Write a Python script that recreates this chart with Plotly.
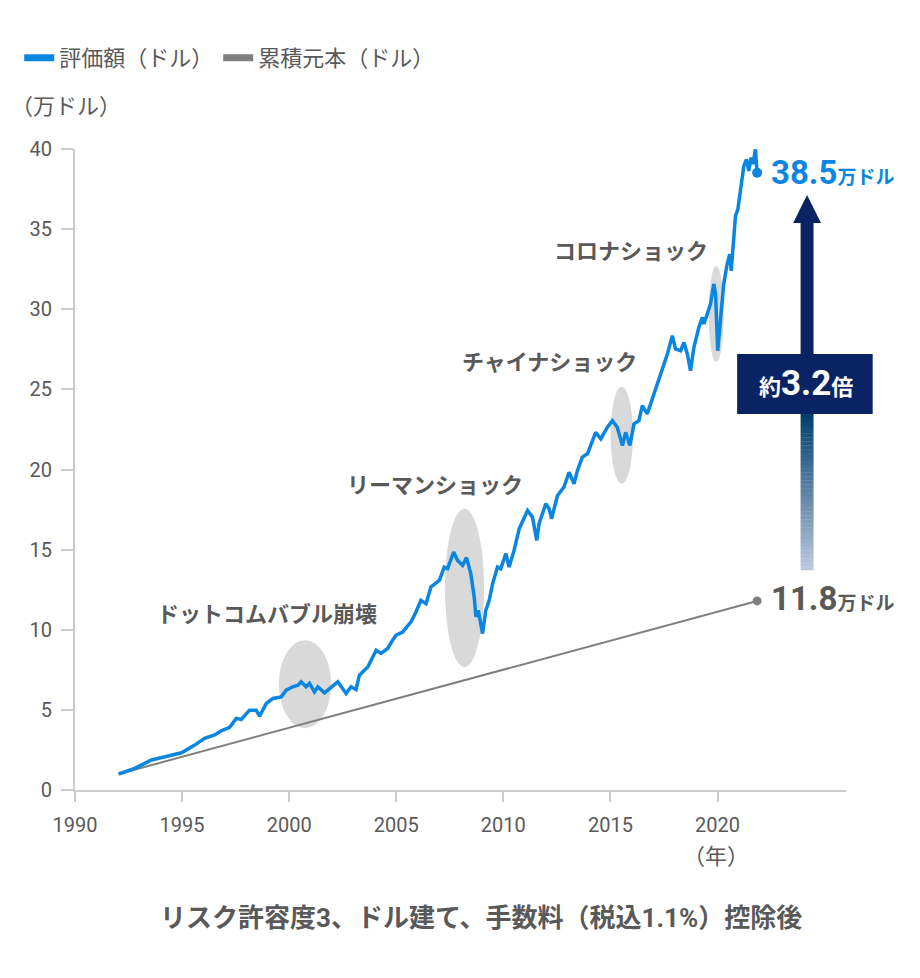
import plotly.graph_objects as go

# ---------------- data ----------------
eval_years = [1992.04, 1992.79, 1993.57, 1994.11, 1994.35, 1994.97, 1995.59, 1996.05, 1996.52, 1996.83,
              1997.22, 1997.53, 1997.76, 1998.15, 1998.46, 1998.62, 1998.93, 1999.24, 1999.63, 1999.86,
              2000.17, 2000.41, 2000.56, 2000.79, 2000.95, 2001.18, 2001.34, 2001.65, 2001.96, 2002.27,
              2002.66, 2002.89, 2003.12, 2003.28, 2003.67, 2004.06, 2004.29, 2004.60, 2004.83, 2004.99,
              2005.30, 2005.69, 2005.92, 2006.15, 2006.39, 2006.62, 2007.01, 2007.24, 2007.40, 2007.68,
              2007.86, 2008.10, 2008.28, 2008.48, 2008.64, 2008.72, 2008.83, 2009.03, 2009.18, 2009.34,
              2009.50, 2009.73, 2009.88, 2010.12, 2010.27, 2010.50, 2010.74, 2010.90, 2011.13, 2011.36,
              2011.56, 2011.67, 2011.98, 2012.14, 2012.25, 2012.53, 2012.83, 2013.07, 2013.30, 2013.46,
              2013.69, 2013.93, 2014.08, 2014.31, 2014.55, 2014.86, 2015.09, 2015.32, 2015.56, 2015.71,
              2015.91, 2016.10, 2016.33, 2016.49, 2016.72, 2017.03, 2017.34, 2017.66, 2017.89, 2018.04,
              2018.28, 2018.43, 2018.59, 2018.74, 2018.90, 2019.13, 2019.29, 2019.36, 2019.52, 2019.67,
              2019.83, 2019.91, 2020.01, 2020.14, 2020.29, 2020.45, 2020.57, 2020.64, 2020.76, 2020.84,
              2020.95, 2021.07, 2021.23, 2021.35, 2021.46, 2021.57, 2021.66, 2021.77, 2021.85]
eval_values = [1.00, 1.35, 1.87, 2.07, 2.12, 2.32, 2.80, 3.22, 3.43, 3.69,
               3.91, 4.47, 4.40, 4.98, 4.98, 4.61, 5.40, 5.71, 5.81, 6.23,
               6.44, 6.54, 6.75, 6.44, 6.65, 6.12, 6.44, 6.06, 6.44, 6.75,
               6.02, 6.44, 6.27, 7.16, 7.68, 8.72, 8.52, 8.83, 9.35, 9.66,
               9.86, 10.49, 11.11, 11.84, 11.63, 12.67, 13.08, 13.91, 13.81, 14.85,
               14.33, 14.02, 14.50, 13.50, 12.04, 10.80, 11.21, 9.76, 11.21, 11.84,
               12.88, 13.91, 13.81, 14.75, 13.91, 14.95, 16.30, 16.82, 17.44, 17.03,
               15.58, 16.62, 17.86, 17.55, 16.93, 18.38, 18.90, 19.83, 19.11, 19.94,
               20.77, 20.98, 21.50, 22.32, 21.91, 22.64, 23.05, 22.64, 21.50, 22.32,
               21.50, 22.85, 23.05, 23.99, 23.47, 24.72, 25.96, 27.21, 28.35, 27.52,
               27.41, 27.93, 27.21, 26.17, 27.62, 28.87, 29.49, 29.08, 29.70, 30.32,
               31.57, 30.95, 27.41, 29.49, 31.57, 32.82, 33.44, 32.40, 34.69, 35.83,
               36.24, 37.59, 38.94, 39.36, 38.63, 39.46, 39.06, 39.98, 38.52]

principal_years = [1992.04, 2021.85]
principal_values = [1.0, 11.8]

series_names = ["評価額（ドル）", "累積元本（ドル）"]
x_ticks = [1990, 1995, 2000, 2005, 2010, 2015, 2020]
y_ticks = [0, 5, 10, 15, 20, 25, 30, 35, 40]

# crisis annotations: label, ellipse x-range, ellipse y-range, label position
crisis_labels = ["ドットコムバブル崩壊", "リーマンショック", "チャイナショック", "コロナショック"]
crisis_x_ranges = [(1999.52, 2001.96), (2007.27, 2009.10), (2015.01, 2016.05), (2019.59, 2020.29)]
crisis_y_ranges = [(3.86, 9.35), (7.68, 17.55), (19.11, 25.17), (26.69, 32.71)]
crisis_label_pos = [(1998.95, 10.98), (2006.79, 19.03), (2012.15, 26.65), (2015.97, 33.63)]

final_value_text = "38.5"
principal_text = "11.8"
ratio_text = "3.2"

# ---------------- style ----------------
BLUE = "#0b86e0"
GRAY = "#7f7f7f"
NAVY = "#0a2463"
TEXT = "#595959"
FONT = "Roboto, 'Noto Sans CJK JP', sans-serif"

fig = go.Figure()

fig.add_trace(go.Scatter(x=principal_years, y=principal_values, mode="lines",
                         line=dict(color=GRAY, width=2), showlegend=False, hoverinfo="skip"))
fig.add_trace(go.Scatter(x=eval_years, y=eval_values, mode="lines",
                         line=dict(color=BLUE, width=3.5), showlegend=False))
fig.add_trace(go.Scatter(x=[principal_years[-1]], y=[principal_values[-1]], mode="markers",
                         marker=dict(color=GRAY, size=9), showlegend=False))
fig.add_trace(go.Scatter(x=[eval_years[-1]], y=[eval_values[-1]], mode="markers",
                         marker=dict(color=BLUE, size=10), showlegend=False))
# legend entries
fig.add_trace(go.Scatter(x=[None], y=[None], mode="lines", name=series_names[0],
                         line=dict(color=BLUE, width=7)))
fig.add_trace(go.Scatter(x=[None], y=[None], mode="lines", name=series_names[1],
                         line=dict(color=GRAY, width=7)))

shapes = []
for (x0, x1), (y0, y1) in zip(crisis_x_ranges, crisis_y_ranges):
    shapes.append(dict(type="circle", xref="x", yref="y", x0=x0, x1=x1, y0=y0, y1=y1,
                       fillcolor="#d9d9d9", line=dict(width=0), layer="below"))

# arrow (paper coords)
cx = 0.9495
hw = 0.0084
head_hw = 0.0181
tip_y, head_base, box_top, box_bot, shaft_bot = 0.9282, 0.8846, 0.6802, 0.5866, 0.3432
shapes.append(dict(type="path", xref="paper", yref="paper",
                   path=f"M {cx-head_hw},{head_base} L {cx},{tip_y} L {cx+head_hw},{head_base} Z",
                   fillcolor=NAVY, line=dict(width=0), layer="above"))
shapes.append(dict(type="rect", xref="paper", yref="paper", x0=cx-hw, x1=cx+hw,
                   y0=box_top - 0.005, y1=head_base + 0.001,
                   fillcolor=NAVY, line=dict(width=0), layer="above"))
n = 40
c0 = (2, 63, 110)
c1 = (186, 200, 221)
step = (box_bot - shaft_bot) / n
for i in range(n):
    t = i / (n - 1)
    col = tuple(round(c0[k] + (c1[k] - c0[k]) * t) for k in range(3))
    ytop = box_bot - i * step
    shapes.append(dict(type="rect", xref="paper", yref="paper", x0=cx-hw, x1=cx+hw,
                       y0=ytop - step - 0.0005, y1=ytop,
                       fillcolor=f"rgb{col}", line=dict(width=0), layer="above"))
shapes.append(dict(type="rect", xref="paper", yref="paper", x0=0.8588, x1=1.0346,
                   y0=box_bot, y1=box_top, fillcolor=NAVY, line=dict(width=0), layer="above"))

annotations = []
for lab, (lx, ly) in zip(crisis_labels, crisis_label_pos):
    annotations.append(dict(x=lx, y=ly, xref="x", yref="y", text=f"<b>{lab}</b>", showarrow=False,
                            font=dict(size=22, color=TEXT, family=FONT)))

annotations += [
    dict(x=0.9005, y=0.963, xref="paper", yref="paper", xanchor="left", yanchor="middle",
         text=f"<b>{final_value_text}</b><span style='font-size:19px'><b>万ドル</b></span>",
         showarrow=False, font=dict(size=33, color=BLUE, family=FONT)),
    dict(x=0.9005, y=0.2980, xref="paper", yref="paper", xanchor="left", yanchor="middle",
         text=f"<b>{principal_text}</b><span style='font-size:19px'><b>万ドル</b></span>",
         showarrow=False, font=dict(size=33, color=TEXT, family=FONT)),
    dict(x=0.9475, y=0.6334, xref="paper", yref="paper", xanchor="center", yanchor="middle",
         text=f"<b><span style='font-size:22px'>約</span>{ratio_text}<span style='font-size:22px'>倍</span></b>",
         showarrow=False, font=dict(size=35, color="white", family=FONT)),
    dict(x=-0.0855, y=1.067, xref="paper", yref="paper", xanchor="left", yanchor="middle",
         text="（万ドル）", showarrow=False, font=dict(size=22, color=TEXT, family=FONT)),
    dict(x=0.8316, y=-0.1045, xref="paper", yref="paper", xanchor="center", yanchor="middle",
         text="（年）", showarrow=False, font=dict(size=22, color=TEXT, family=FONT)),
    dict(x=0.526, y=-0.1997, xref="paper", yref="paper", xanchor="center", yanchor="middle",
         text="<b>リスク許容度3、ドル建て、手数料（税込1.1%）控除後</b>", showarrow=False,
         font=dict(size=26, color=TEXT, family=FONT)),
]

fig.update_layout(
    width=912, height=970,
    margin=dict(l=66, r=74, t=141, b=188),
    paper_bgcolor="white", plot_bgcolor="white",
    font=dict(family=FONT, color=TEXT, size=20),
    shapes=shapes, annotations=annotations,
    legend=dict(orientation="h", x=-0.071, y=1.175, xanchor="left", yanchor="top",
                font=dict(size=22, color=TEXT, family=FONT), itemwidth=30,
                bgcolor="rgba(0,0,0,0)"),
    xaxis=dict(range=[1990, 2026], tickvals=x_ticks, showgrid=False, zeroline=False,
               showline=True, linecolor="#cccccc", linewidth=2, ticks="outside", ticklen=10,
               tickcolor="#cccccc", tickwidth=2, tickfont=dict(size=20, color=TEXT),
               ticklabelstandoff=6),
    yaxis=dict(range=[0, 40], tickvals=y_ticks, showgrid=False, zeroline=False,
               showline=True, linecolor="#cccccc", linewidth=2, ticks="outside", ticklen=12,
               tickcolor="#cccccc", tickwidth=2, tickfont=dict(size=20, color=TEXT),
               ticklabelstandoff=5),
)

fig.write_html("out.html")
